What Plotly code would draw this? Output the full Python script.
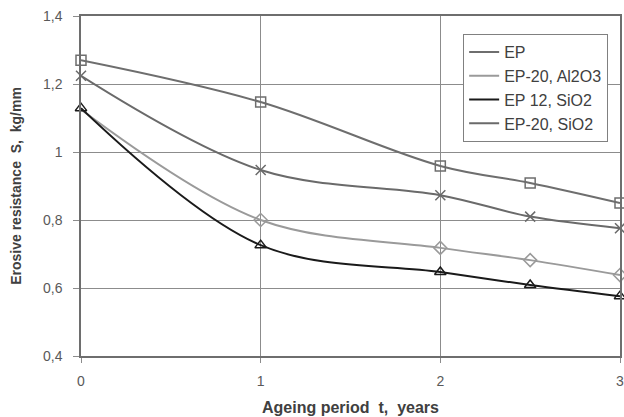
import plotly.graph_objects as go

t = [0, 1, 2, 2.5, 3]
ep = [1.27, 1.147, 0.959, 0.909, 0.85]
ep20_al2o3 = [1.125, 0.80, 0.718, 0.682, 0.638]
ep12_sio2 = [1.129, 0.726, 0.647, 0.609, 0.576]
ep20_sio2 = [1.224, 0.947, 0.873, 0.81, 0.776]

names = ["EP", "EP-20, Al2O3", "EP 12, SiO2", "EP-20, SiO2"]
y_ticks = [0.4, 0.6, 0.8, 1.0, 1.2, 1.4]
y_tick_text = ["0,4", "0,6", "0,8", "1", "1,2", "1,4"]
x_ticks = [0, 1, 2, 3]

series = [
    (names[0], ep, "#6e6e6e", "square-open"),
    (names[1], ep20_al2o3, "#9a9a9a", "diamond-open"),
    (names[2], ep12_sio2, "#1a1a1a", "triangle-up-open"),
    (names[3], ep20_sio2, "#6a6a6a", "x-thin-open"),
]

fig = go.Figure()
for name, vals, col, sym in series:
    fig.add_trace(go.Scatter(
        x=t, y=vals, name=name, mode="lines",
        line=dict(color=col, width=2, shape="spline", smoothing=1),
    ))
for name, vals, col, sym in series:
    xs, ys = t, vals
    if name == names[1]:
        xs, ys = t[1:], vals[1:]
    fig.add_trace(go.Scatter(
        x=xs, y=ys, mode="markers", showlegend=False,
        marker=dict(symbol=sym, size=10, color=col,
                    line=dict(color=col, width=1.5)),
        cliponaxis=False,
    ))

NB = "\u00a0"
# figure is a bit wider than the window so the last tick label is cut at the edge
fig.update_layout(
    width=630, height=417,
    margin=dict(l=81, r=10, t=16, b=61, autoexpand=False),
    paper_bgcolor="white", plot_bgcolor="white",
    font=dict(family="Liberation Sans, Arial, sans-serif", size=14, color="#595959"),
    showlegend=True,
    legend=dict(
        x=0.709, y=0.947, xanchor="left", yanchor="top",
        bordercolor="#808080", borderwidth=1, bgcolor="white",
        font=dict(size=16, color="#404040"),
        tracegroupgap=0, itemwidth=30,
    ),
    xaxis=dict(
        range=[0, 3], tickvals=x_ticks, ticktext=[str(v) for v in x_ticks],
        showgrid=True, gridcolor="#8c8c8c", gridwidth=1,
        showline=True, linecolor="#6e6e6e", linewidth=1.5, mirror=True,
        ticks="outside", ticklen=5, tickcolor="#8c8c8c",
        ticklabelstandoff=6,
        zeroline=False, automargin=False,
        title=dict(text=f"<b>Ageing period{NB}{NB}t,{NB}{NB}years</b>",
                   font=dict(size=16, color="#404040"), standoff=14),
    ),
    yaxis=dict(
        range=[0.4, 1.4], tickvals=y_ticks, ticktext=y_tick_text,
        showgrid=True, gridcolor="#8c8c8c", gridwidth=1,
        showline=True, linecolor="#6e6e6e", linewidth=1.5, mirror=True,
        ticks="outside", ticklen=6, tickcolor="#8c8c8c",
        ticklabelstandoff=8,
        zeroline=False, automargin=False,
        title=dict(text=f"<b>Erosive resistance{NB}{NB}S,{NB}{NB}kg/mm</b>",
                   font=dict(size=14, color="#404040"), standoff=18),
    ),
)

fig.write_html(
    "out.html",
    config={"displayModeBar": False},
    post_script="document.body.style.margin='0';document.body.style.overflow='hidden';",
)
